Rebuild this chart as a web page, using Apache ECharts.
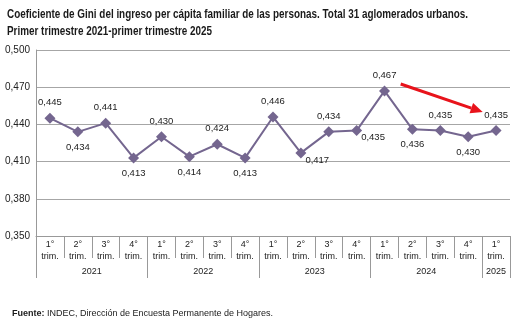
<!DOCTYPE html>
<html><head><meta charset="utf-8">
<script src="https://cdn.jsdelivr.net/npm/echarts@6/dist/echarts.min.js"></script>
<style>html,body{margin:0;padding:0;background:#fff}#c{width:524px;height:322px}</style>
</head><body><div id="c"></div>
<script>
const titleLines = ['Coeficiente de Gini del ingreso per cápita familiar de las personas. Total 31 aglomerados urbanos.','Primer trimestre 2021-primer trimestre 2025'];
const quarterLabels = ['1°','2°','3°','4°','1°','2°','3°','4°','1°','2°','3°','4°','1°','2°','3°','4°','1°'];
const years = ['2021','2022','2023','2024','2025'];
const yearSpans = [4,4,4,4,1];
const gini = [0.445,0.434,0.441,0.413,0.430,0.414,0.424,0.413,0.446,0.417,0.434,0.435,0.467,0.436,0.435,0.430,0.435];
const labelPos = ['top','bottom','top','bottom','top','bottom','top','bottom','top','br','top','br','top','bottom','top','bottom','top'];
const yTicks = {min:0.35, max:0.5, step:0.03};

const slots = []; const yearTickIdx = [0]; const yearLabelAt = {};
let pos = 0;
years.forEach((y,i)=>{ const span = yearSpans[i]*2; yearLabelAt[pos + span/2] = y; pos += span; yearTickIdx.push(pos); });
for (let i=0;i<=pos;i++) slots.push(String(i));

const chart = echarts.init(document.getElementById('c'), null, {renderer:'canvas'});
const fnt = 'Liberation Sans, Arial, sans-serif';
const lineColor = '#74668f';

// condensed title: measure and squeeze horizontally
const cv = document.createElement('canvas').getContext('2d');
cv.font = 'bold 12px Liberation Sans';
const w1 = cv.measureText(titleLines[0]).width;
const sx = 461 / w1;

chart.setOption({
  animation:false,
  title:[{
    text:'{b|Fuente:} INDEC, Dirección de Encuesta Permanente de Hogares.',
    left:7, top:304,
    textStyle:{fontFamily:fnt, fontSize:9, fontWeight:'normal', color:'#1a1a1a', rich:{b:{fontFamily:fnt,fontSize:9,fontWeight:'bold',color:'#1a1a1a'}}}
  }],
  grid:{left:36, right:14, top:50, bottom:86},
  xAxis:[{
    type:'category', data: quarterLabels.map(q=>q+'\ntrim.'), boundaryGap:true,
    axisLine:{lineStyle:{color:'#999', width:1}},
    axisTick:{show:true, interval:0, length:22, lineStyle:{color:'#999'}},
    axisLabel:{interval:0, margin:3, fontFamily:fnt, fontSize:9, lineHeight:12, color:'#222'}
  },{
    type:'category', data: slots, boundaryGap:false, position:'bottom',
    axisLine:{show:false},
    axisTick:{show:true, length:42, interval:(i)=>yearTickIdx.includes(i), lineStyle:{color:'#999'}},
    axisLabel:{interval:(i)=>yearLabelAt[i]!==undefined, formatter:(v,i)=>yearLabelAt[i]||'', margin:31, fontFamily:fnt, fontSize:9, color:'#222'}
  }],
  yAxis:{
    type:'value', min:yTicks.min, max:yTicks.max, interval:yTicks.step,
    axisLine:{show:true, lineStyle:{color:'#999'}},
    axisTick:{show:false},
    splitLine:{lineStyle:{color:'#a6a6a6', width:1}},
    axisLabel:{formatter:(v)=>v.toFixed(3).replace('.',','), fontFamily:fnt, fontSize:10, color:'#222', margin:6}
  },
  series:[{
    type:'line', xAxisIndex:0,
    data: gini.map((v,i)=>({value:v, label: labelPos[i]==='br'
      ? {position:'right', distance:0, offset:[-1,7]}
      : {position:labelPos[i]}})),
    symbol:'diamond', symbolSize:11,
    lineStyle:{color:lineColor, width:2},
    itemStyle:{color:lineColor},
    label:{show:true, distance:5, formatter:(p)=>p.value.toFixed(3).replace('.',','), fontFamily:fnt, fontSize:9.5, color:'#222'}
  }]
});

const a = chart.convertToPixel({gridIndex:0}, [12, 0.4726]);
const b = chart.convertToPixel({gridIndex:0}, [13, 0.4726]);
const dx = b[0]-a[0];
const x1 = a[0] + 0.58*dx, y1 = a[1];
const x2 = a[0] + 3.52*dx, y2 = chart.convertToPixel({gridIndex:0}, [0, 0.450])[1];
const ang = Math.atan2(y2-y1, x2-x1);
const hl = 12, hw = 5.5;
const bx = x2 - hl*Math.cos(ang), by = y2 - hl*Math.sin(ang);
chart.setOption({graphic:[
  {type:'text', x:7, y:9, scaleX:sx, style:{text:titleLines[0], font:'bold 12px Liberation Sans', fill:'#1a1a1a'}},
  {type:'text', x:7, y:26, scaleX:sx, style:{text:titleLines[1], font:'bold 12px Liberation Sans', fill:'#1a1a1a'}},
  {type:'line', shape:{x1:x1,y1:y1,x2:bx,y2:by}, style:{stroke:'#e8131b', lineWidth:3}},
  {type:'polygon', shape:{points:[[x2,y2],[bx - hw*Math.sin(ang), by + hw*Math.cos(ang)],[bx + hw*Math.sin(ang), by - hw*Math.cos(ang)]]}, style:{fill:'#e8131b'}}
]});
</script></body></html>
